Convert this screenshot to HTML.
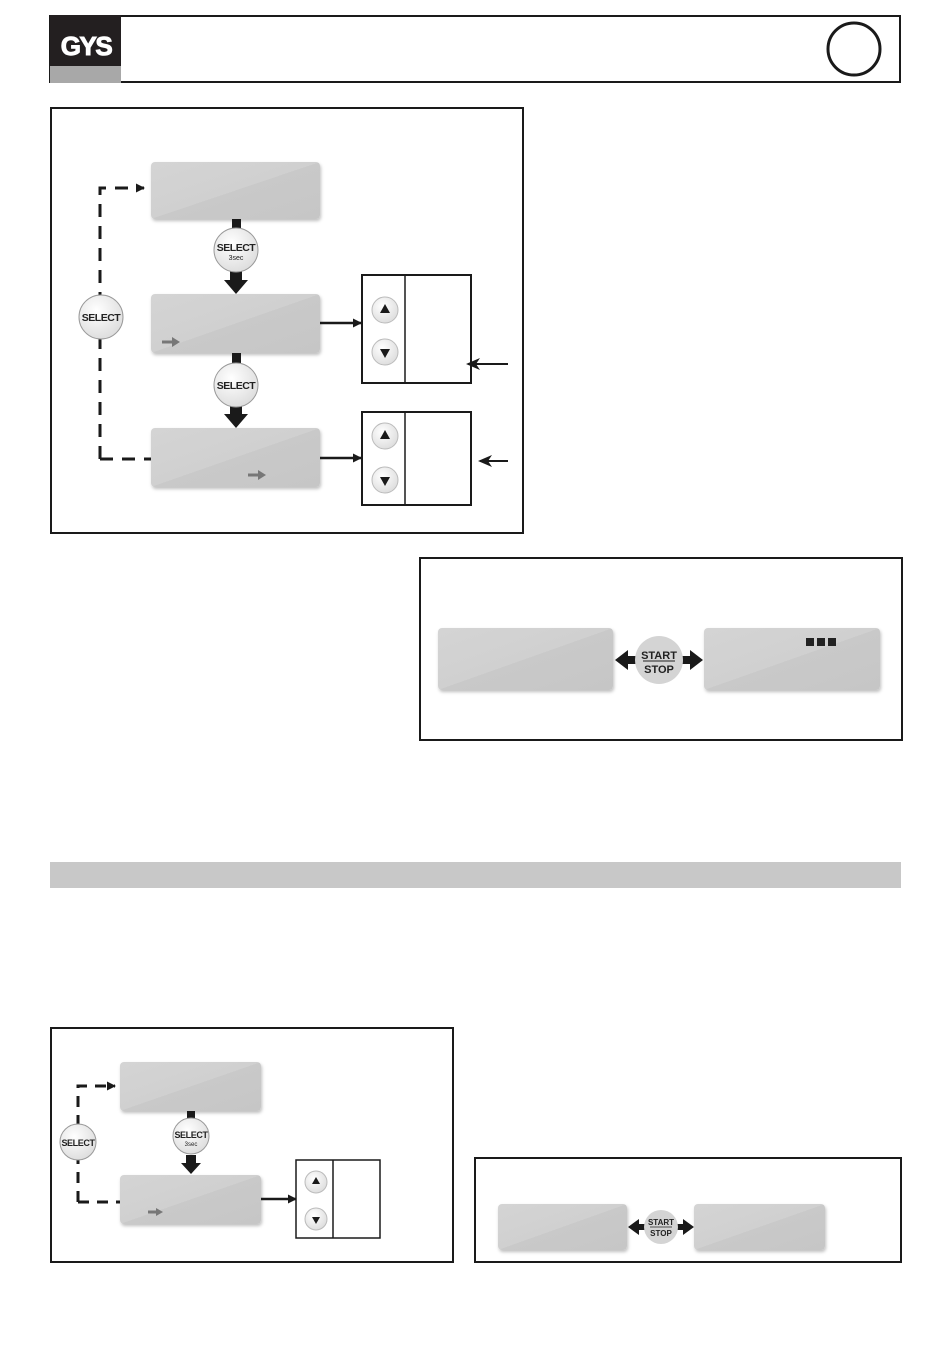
<!DOCTYPE html>
<html><head><meta charset="utf-8"><style>
html,body{margin:0;padding:0;background:#fff;}
svg{display:block;font-family:"Liberation Sans",sans-serif;}
</style></head><body>
<svg width="950" height="1353" viewBox="0 0 950 1353" xmlns="http://www.w3.org/2000/svg">
<defs>
<linearGradient id="lcd" x1="0" y1="0" x2="1" y2="1">
<stop offset="0" stop-color="#d4d4d4"/><stop offset="0.5" stop-color="#d0d0d0"/><stop offset="0.5" stop-color="#c9c9c9"/><stop offset="1" stop-color="#c6c6c6"/>
</linearGradient>
<radialGradient id="btn" cx="0.4" cy="0.35" r="0.7">
<stop offset="0" stop-color="#ffffff"/><stop offset="1" stop-color="#dcdcdc"/>
</radialGradient>
<filter id="sh" x="-10%" y="-10%" width="130%" height="140%"><feDropShadow dx="1" dy="2" stdDeviation="1.5" flood-color="#000" flood-opacity="0.25"/></filter>
<marker id="ah" markerWidth="9" markerHeight="9" refX="8" refY="4.5" orient="auto" markerUnits="userSpaceOnUse"><path d="M0,0 L9,4.5 L0,9 z" fill="#1a1a1a"/></marker>
<marker id="ah2" markerWidth="14" markerHeight="12" refX="12" refY="6" orient="auto" markerUnits="userSpaceOnUse"><path d="M0,0 L14,6 L0,12 L4,6 z" fill="#1a1a1a"/></marker>
</defs>

<!-- header -->
<rect x="50" y="16" width="850" height="66" fill="#fff" stroke="#1a1a1a" stroke-width="2"/>
<rect x="50" y="15" width="71" height="51" fill="#231f20"/>
<rect x="50" y="66" width="71" height="17" fill="#a8a8a8"/>
<text x="86" y="55" font-size="26" font-weight="bold" fill="#fff" text-anchor="middle" letter-spacing="-1.5" stroke="#fff" stroke-width="1">GYS</text>
<circle cx="854" cy="49" r="26" fill="none" stroke="#1a1a1a" stroke-width="3"/>

<!-- box1 -->
<rect x="51" y="108" width="472" height="425" fill="none" stroke="#1a1a1a" stroke-width="2"/>
<g filter="url(#sh)">
<rect x="151" y="162" width="169" height="57" rx="4" fill="url(#lcd)"/>
<rect x="151" y="294" width="169" height="59" rx="4" fill="url(#lcd)"/>
<rect x="151" y="428" width="169" height="59" rx="4" fill="url(#lcd)"/>
</g>
<rect x="232" y="219" width="9" height="12" fill="#1a1a1a"/>
<rect x="232" y="353" width="9" height="12" fill="#1a1a1a"/>
<path d="M230,270 h12 v10 h6 l-12,14 l-12,-14 h6z" fill="#1a1a1a"/>
<path d="M230,404 h12 v10 h6 l-12,14 l-12,-14 h6z" fill="#1a1a1a"/>
<circle cx="236" cy="250" r="22" fill="url(#btn)" stroke="#999" stroke-width="1"/>
<text x="236" y="251" font-size="10.5" font-weight="bold" text-anchor="middle" fill="#222" letter-spacing="-0.5">SELECT</text>
<text x="236" y="260" font-size="7" text-anchor="middle" fill="#222">3sec</text>
<circle cx="236" cy="385" r="22" fill="url(#btn)" stroke="#999" stroke-width="1"/>
<text x="236" y="389" font-size="10.5" font-weight="bold" text-anchor="middle" fill="#222" letter-spacing="-0.5">SELECT</text>
<path d="M100,459 V188 H144" fill="none" stroke="#1a1a1a" stroke-width="3" stroke-dasharray="13,9" marker-end="url(#ah)"/>
<path d="M100,459 H151" fill="none" stroke="#1a1a1a" stroke-width="3" stroke-dasharray="13,9"/>
<circle cx="101" cy="317" r="22" fill="url(#btn)" stroke="#999" stroke-width="1"/>
<text x="101" y="321" font-size="10.5" font-weight="bold" text-anchor="middle" fill="#222" letter-spacing="-0.5">SELECT</text>
<path d="M162,342 h12" stroke="#777" stroke-width="3"/><path d="M172,337 l8,5 l-8,5z" fill="#777"/>
<path d="M248,475 h12" stroke="#777" stroke-width="3"/><path d="M258,470 l8,5 l-8,5z" fill="#777"/>
<line x1="320" y1="323" x2="361" y2="323" stroke="#1a1a1a" stroke-width="2.5" marker-end="url(#ah)"/>
<line x1="320" y1="458" x2="361" y2="458" stroke="#1a1a1a" stroke-width="2.5" marker-end="url(#ah)"/>
<rect x="362" y="275" width="109" height="108" fill="#fff" stroke="#1a1a1a" stroke-width="2"/>
<line x1="405" y1="275" x2="405" y2="383" stroke="#1a1a1a" stroke-width="1.5"/>
<rect x="362" y="412" width="109" height="93" fill="#fff" stroke="#1a1a1a" stroke-width="2"/>
<line x1="405" y1="412" x2="405" y2="505" stroke="#1a1a1a" stroke-width="1.5"/>
<g stroke="#bbb" stroke-width="1" fill="url(#btn)">
<circle cx="385" cy="310" r="13"/><circle cx="385" cy="352" r="13"/>
<circle cx="385" cy="436" r="13"/><circle cx="385" cy="480" r="13"/>
</g>
<g fill="#1a1a1a">
<path d="M385,304 l5,9 h-10z"/><path d="M385,358 l5,-9 h-10z"/>
<path d="M385,430 l5,9 h-10z"/><path d="M385,486 l5,-9 h-10z"/>
</g>
<line x1="508" y1="364" x2="468" y2="364" stroke="#1a1a1a" stroke-width="2" marker-end="url(#ah2)"/>
<line x1="508" y1="461" x2="480" y2="461" stroke="#1a1a1a" stroke-width="2" marker-end="url(#ah2)"/>

<!-- box2 -->
<rect x="420" y="558" width="482" height="182" fill="none" stroke="#1a1a1a" stroke-width="2"/>
<g filter="url(#sh)">
<rect x="438" y="628" width="175" height="62" rx="4" fill="url(#lcd)"/>
<rect x="704" y="628" width="176" height="62" rx="4" fill="url(#lcd)"/>
</g>
<rect x="806" y="638" width="8" height="8" fill="#222"/><rect x="817" y="638" width="8" height="8" fill="#222"/><rect x="828" y="638" width="8" height="8" fill="#222"/>
<path d="M615,660 l13,-10 v6 h8 v8 h-8 v6z" fill="#1a1a1a"/>
<path d="M703,660 l-13,-10 v6 h-8 v8 h8 v6z" fill="#1a1a1a"/>
<circle cx="659" cy="660" r="24" fill="#d4d4d4"/>
<text x="659" y="659" font-size="11" font-weight="bold" text-anchor="middle" fill="#222">START</text>
<line x1="643" y1="661" x2="675" y2="661" stroke="#222" stroke-width="1"/>
<text x="659" y="673" font-size="11" font-weight="bold" text-anchor="middle" fill="#222">STOP</text>

<!-- gray bar -->
<rect x="50" y="862" width="851" height="26" fill="#c8c8c8"/>

<!-- box3 -->
<rect x="51" y="1028" width="402" height="234" fill="none" stroke="#1a1a1a" stroke-width="2"/>
<g filter="url(#sh)">
<rect x="120" y="1062" width="141" height="49" rx="4" fill="url(#lcd)"/>
<rect x="120" y="1175" width="141" height="49" rx="4" fill="url(#lcd)"/>
</g>
<rect x="187" y="1111" width="8" height="8" fill="#1a1a1a"/>
<path d="M186,1155 h10 v8 h5 l-10,11 l-10,-11 h5z" fill="#1a1a1a"/>
<circle cx="191" cy="1136" r="18" fill="url(#btn)" stroke="#999" stroke-width="1"/>
<text x="191" y="1138" font-size="9" font-weight="bold" text-anchor="middle" fill="#222" letter-spacing="-0.4">SELECT</text>
<text x="191" y="1146" font-size="6" text-anchor="middle" fill="#222">3sec</text>
<path d="M78,1202 V1086 H115" fill="none" stroke="#1a1a1a" stroke-width="3" stroke-dasharray="11,8" marker-end="url(#ah)"/>
<path d="M78,1202 H120" fill="none" stroke="#1a1a1a" stroke-width="3" stroke-dasharray="11,8"/>
<circle cx="78" cy="1142" r="18" fill="url(#btn)" stroke="#999" stroke-width="1"/>
<text x="78" y="1146" font-size="9" font-weight="bold" text-anchor="middle" fill="#222" letter-spacing="-0.4">SELECT</text>
<path d="M148,1212 h10" stroke="#777" stroke-width="3"/><path d="M156,1208 l7,4 l-7,4z" fill="#777"/>
<line x1="261" y1="1199" x2="296" y2="1199" stroke="#1a1a1a" stroke-width="2.5" marker-end="url(#ah)"/>
<rect x="296" y="1160" width="84" height="78" fill="#fff" stroke="#1a1a1a" stroke-width="1.5"/>
<line x1="333" y1="1160" x2="333" y2="1238" stroke="#1a1a1a" stroke-width="1.5"/>
<g stroke="#bbb" stroke-width="1" fill="url(#btn)"><circle cx="316" cy="1182" r="11"/><circle cx="316" cy="1219" r="11"/></g>
<g fill="#1a1a1a"><path d="M316,1177 l4,7 h-8z"/><path d="M316,1224 l4,-7 h-8z"/></g>

<!-- box4 -->
<rect x="475" y="1158" width="426" height="104" fill="none" stroke="#1a1a1a" stroke-width="2"/>
<g filter="url(#sh)">
<rect x="498" y="1204" width="129" height="46" rx="4" fill="url(#lcd)"/>
<rect x="694" y="1204" width="131" height="46" rx="4" fill="url(#lcd)"/>
</g>
<path d="M628,1227 l11,-8 v5 h6 v6 h-6 v5z" fill="#1a1a1a"/>
<path d="M694,1227 l-11,-8 v5 h-6 v6 h6 v5z" fill="#1a1a1a"/>
<circle cx="661" cy="1227" r="17" fill="#d4d4d4"/>
<text x="661" y="1225" font-size="8" font-weight="bold" text-anchor="middle" fill="#222">START</text>
<line x1="650" y1="1227" x2="672" y2="1227" stroke="#222" stroke-width="0.8"/>
<text x="661" y="1236" font-size="8" font-weight="bold" text-anchor="middle" fill="#222">STOP</text>
</svg>
</body></html>
